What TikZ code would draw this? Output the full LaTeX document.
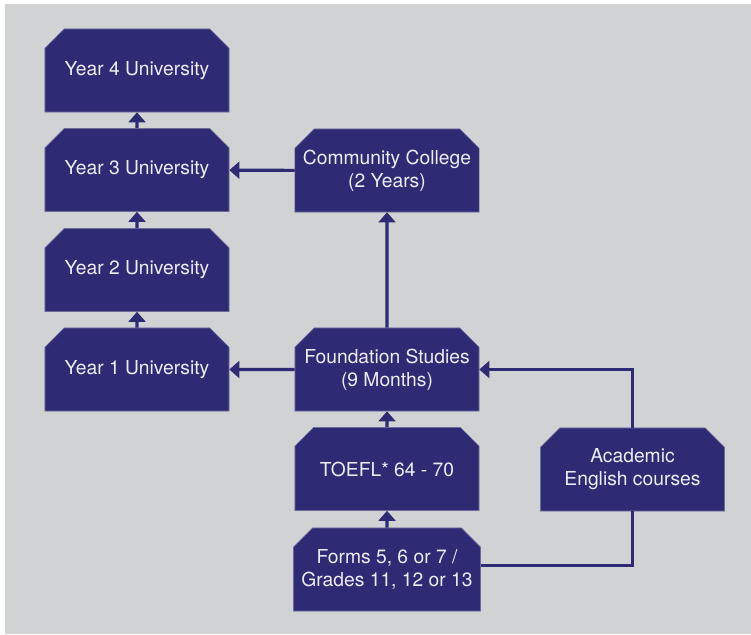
\documentclass[tikz,border=0pt]{standalone}
\usepackage{fontspec}
\setmainfont{TeX Gyre Heros}
\usetikzlibrary{shapes.misc, arrows.meta, positioning}
\definecolor{pathnavy}{HTML}{2E2A74}
\definecolor{pathedge}{HTML}{6D6B9E}
\definecolor{pathgray}{HTML}{D1D2D4}
\definecolor{pathtext}{HTML}{ECECF4}

\tikzset{
  stagebox/.style={chamfered rectangle, chamfered rectangle corners={north west, north east},
    chamfered rectangle xsep=0.2cm, chamfered rectangle ysep=0.28cm,
    minimum width=4.6cm, minimum height=2.075cm, inner sep=0pt,
    draw=pathedge, line width=0.4pt, fill=pathnavy, text=pathtext,
    font=\fontsize{13.7}{16.4}\selectfont, align=center},
  pathlink/.style={line width=2.2pt, pathnavy},
  patharrow/.style={pathlink, -{Triangle[width=0.42cm, length=0.25cm]}}
}

\begin{document}
\begin{tikzpicture}[x=0.025cm, y=-0.025cm]
\useasboundingbox (0,0) rectangle (751,634);
\fill[pathgray] (5,4) rectangle (751,634);

% University years
\node[stagebox] (year4) at (137,70.5) {Year 4 University};
\node[stagebox] (year3) at (137,170) {Year 3 University};
\node[stagebox] (year2) at (137,270) {Year 2 University};
\node[stagebox] (year1) at (137,369.5) {Year 1 University};

% Entry routes
\node[stagebox] (college) at (387,170.5) {Community College\\(2 Years)};
\node[stagebox] (foundation) at (387,369.5) {Foundation Studies\\(9 Months)};
\node[stagebox] (toefl) at (387,469) {TOEFL* 64 - 70};
\node[stagebox] (forms) at (387,569.5) {Forms 5, 6 or 7 /\\Grades 11, 12 or 13};
\node[stagebox] (academic) at (632.5,469.5) {Academic\\English courses};

% Links
\draw[patharrow] (year3) -- (year4);
\draw[patharrow] (year2) -- (year3);
\draw[patharrow] (year1) -- (year2);
\draw[patharrow] (college) -- (year3);
\draw[patharrow] (foundation) -- (year1);
\draw[patharrow] (foundation) -- (college);
\draw[patharrow] (toefl) -- (foundation);
\draw[patharrow] (forms) -- (toefl);
\draw[pathlink] ([yshift=0.1cm]forms.east) -| (academic.south);
\draw[patharrow] (academic.north) |- (foundation.east);
\end{tikzpicture}
\end{document}
